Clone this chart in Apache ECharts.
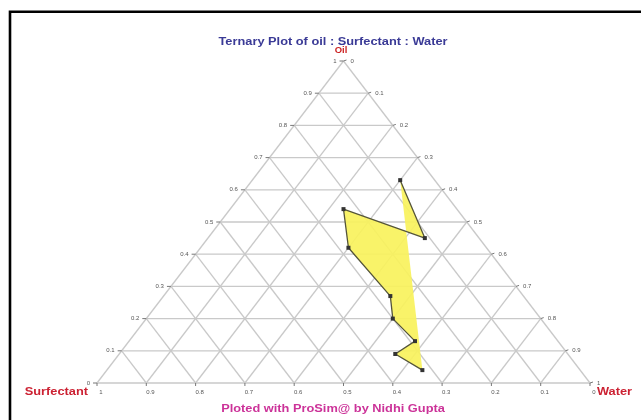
<!DOCTYPE html>
<html>
<head>
<meta charset="utf-8">
<script src="https://cdn.jsdelivr.net/npm/echarts@6/dist/echarts.min.js"></script>
<style>
  html, body { margin: 0; padding: 0; background: #fff; }
  #chart { width: 641px; height: 420px; }
</style>
</head>
<body>
<div id="chart"></div>
<script>
// Sample compositions in path order (fractions of oil, surfactant and water)
const oil        = [0.63, 0.45, 0.54, 0.42, 0.27, 0.20, 0.13, 0.09, 0.04];
const surfactant = [0.07, 0.11, 0.23, 0.28, 0.27, 0.30, 0.29, 0.35, 0.32];
const water      = [0.30, 0.44, 0.23, 0.30, 0.46, 0.50, 0.58, 0.56, 0.64];

// Grid steps and the tick labels along each side
const steps       = [0, 0.1, 0.2, 0.3, 0.4, 0.5, 0.6, 0.7, 0.8, 0.9, 1];
const oilLabels   = ['0', '0.1', '0.2', '0.3', '0.4', '0.5', '0.6', '0.7', '0.8', '0.9', '1'];
const waterLabels = ['0', '0.1', '0.2', '0.3', '0.4', '0.5', '0.6', '0.7', '0.8', '0.9', '1'];
const surfLabels  = ['1', '0.9', '0.8', '0.7', '0.6', '0.5', '0.4', '0.3', '0.2', '0.1', '0'];

// Ternary (oil, water) -> plane: Surfactant vertex at (0,0), Water at (1,0), Oil at (0.5,1)
function toXY(o, w) { return [w + o / 2, o]; }

const points = oil.map((o, i) => toXY(o, water[i]));

// Grid segments: constant oil, constant water, constant surfactant
const gridSegs = [];
steps.forEach(k => {
  if (k < 1) {
    gridSegs.push([k / 2, k, 1 - k / 2, k]);              // oil = k
    gridSegs.push([k, 0, (1 + k) / 2, 1 - k]);            // water = k
    gridSegs.push([1 - k, 0, (1 - k) / 2, 1 - k]);        // surfactant = k
  }
});

const leftPts   = steps.map(k => toXY(k, 0));             // oil axis (left side)
const rightPts  = steps.map(w => toXY(1 - w, w));         // water axis (right side)
const bottomPts = steps.map(k => [k, 0]);                 // surfactant axis (base)

const tickFont = { fontSize: 6, fontFamily: 'Liberation Sans, Arial, sans-serif', fill: '#555' };

function labelSeries(pts, labels, side) {
  return {
    type: 'custom',
    coordinateSystem: 'cartesian2d',
    silent: true,
    z: 5,
    data: pts,
    renderItem: (params, api) => {
      const p = api.coord([api.value(0), api.value(1)]);
      const txt = labels[params.dataIndex];
      let tick, text;
      if (side === 'left') {
        tick = { x1: p[0] - 4, y1: p[1], x2: p[0], y2: p[1] };
        text = { x: p[0] - 7, y: p[1], align: 'right' };
      } else if (side === 'right') {
        tick = { x1: p[0], y1: p[1], x2: p[0] + 3, y2: p[1] - 1 };
        text = { x: p[0] + 7, y: p[1], align: 'left' };
      } else {
        tick = { x1: p[0], y1: p[1], x2: p[0], y2: p[1] + 3 };
        text = { x: p[0] + 4, y: p[1] + 9, align: 'center' };
      }
      return {
        type: 'group',
        children: [
          { type: 'line', shape: tick, style: { stroke: '#777', lineWidth: 1 } },
          {
            type: 'text', x: text.x, y: text.y,
            style: Object.assign({ text: txt, align: text.align, verticalAlign: 'middle' }, tickFont)
          }
        ]
      };
    }
  };
}

const chart = echarts.init(document.getElementById('chart'), null, { renderer: 'canvas' });

const stretch = 1.28;
const boldFont = 'Liberation Sans, Arial, sans-serif';

chart.setOption({
  backgroundColor: '#ffffff',
  animation: false,
  grid: { left: 97, top: 61, width: 493, height: 322 },
  xAxis: { type: 'value', min: 0, max: 1, show: false },
  yAxis: { type: 'value', min: 0, max: 1, show: false },
  graphic: [
    { type: 'rect', shape: { x: 10, y: 11.7, width: 700, height: 500 },
      style: { fill: 'none', stroke: '#000', lineWidth: 2.6 }, z: 100 },
    { type: 'text', x: 333, y: 42, scaleX: stretch,
      style: { text: 'Ternary Plot of oil : Surfectant : Water', fontSize: 10, fontWeight: 'bold',
               fontFamily: boldFont, fill: '#3a3a96', align: 'center', verticalAlign: 'middle' } },
    { type: 'text', x: 341, y: 50.5, scaleX: 1.05,
      style: { text: 'Oil', fontSize: 9, fontWeight: 'bold',
               fontFamily: boldFont, fill: '#cc2222', align: 'center', verticalAlign: 'middle' } },
    { type: 'text', x: 88, y: 392, scaleX: stretch,
      style: { text: 'Surfectant', fontSize: 10, fontWeight: 'bold',
               fontFamily: boldFont, fill: '#cc2233', align: 'right', verticalAlign: 'middle' } },
    { type: 'text', x: 597, y: 392, scaleX: stretch,
      style: { text: 'Water', fontSize: 10, fontWeight: 'bold',
               fontFamily: boldFont, fill: '#cc2233', align: 'left', verticalAlign: 'middle' } },
    { type: 'text', x: 333, y: 409, scaleX: stretch,
      style: { text: 'Ploted with ProSim@ by Nidhi Gupta', fontSize: 10, fontWeight: 'bold',
               fontFamily: boldFont, fill: '#cc3399', align: 'center', verticalAlign: 'middle' } }
  ],
  series: [
    // triangular grid
    {
      type: 'custom',
      coordinateSystem: 'cartesian2d',
      silent: true,
      z: 1,
      data: gridSegs,
      renderItem: (params, api) => {
        const a = api.coord([api.value(0), api.value(1)]);
        const b = api.coord([api.value(2), api.value(3)]);
        return { type: 'line', shape: { x1: a[0], y1: a[1], x2: b[0], y2: b[1] },
                 style: { stroke: '#c9c9c9', lineWidth: 1.3 } };
      }
    },
    // filled region enclosed by the sample path
    {
      type: 'custom',
      coordinateSystem: 'cartesian2d',
      silent: true,
      z: 2,
      data: [[0, 0]],
      renderItem: (params, api) => ({
        type: 'polygon',
        shape: { points: points.map(p => api.coord(p)) },
        style: { fill: '#f8f25c', opacity: 0.92 }
      })
    },
    // sample path with markers
    {
      type: 'line',
      z: 3,
      data: points,
      symbol: 'rect',
      symbolSize: 4,
      showAllSymbol: true,
      lineStyle: { color: '#55553a', width: 1.3 },
      itemStyle: { color: '#333333' },
      silent: true
    },
    labelSeries(leftPts, oilLabels, 'left'),
    labelSeries(rightPts, waterLabels, 'right'),
    labelSeries(bottomPts, surfLabels, 'bottom')
  ]
});
</script>
</body>
</html>
